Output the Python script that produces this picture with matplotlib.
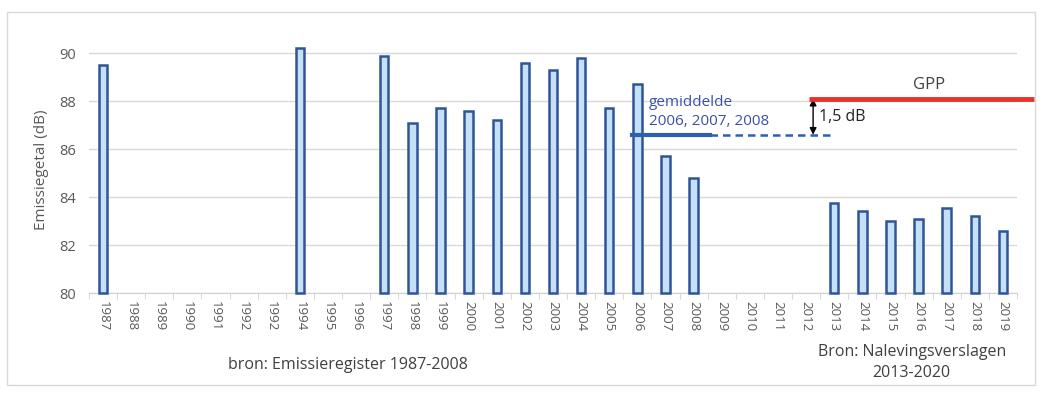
import matplotlib

matplotlib.use("agg")
import matplotlib.pyplot as plt
import numpy as np
from matplotlib.patches import Rectangle

years = list(range(1987, 2020))
year_labels = [str(y) for y in years]
year_labels[6] = "1992"  # as printed in the source chart

emission = {
    1987: 89.5, 1994: 90.2, 1997: 89.9, 1998: 87.1, 1999: 87.7, 2000: 87.6,
    2001: 87.2, 2002: 89.6, 2003: 89.3, 2004: 89.8, 2005: 87.7, 2006: 88.7,
    2007: 85.7, 2008: 84.8, 2013: 83.75, 2014: 83.4, 2015: 83.0, 2016: 83.1,
    2017: 83.55, 2018: 83.2, 2019: 82.6,
}
values = np.array([emission.get(y, np.nan) for y in years])

y_base = 80
mean_0608 = 86.6
gpp_level = 88.1

plt.rcParams["font.family"] = ["Open Sans", "DejaVu Sans"]

fig = plt.figure(figsize=(10.42, 3.94), dpi=100)
ax = fig.add_axes([0.0854, 0.2563, 0.8906, 0.627])

x = np.arange(len(years))
ax.bar(x, values - y_base, bottom=y_base, width=0.3, color="#c6e0f7",
       edgecolor="#2f5597", linewidth=1.8, zorder=3, clip_on=False)

ax.set_xlim(-0.5, len(years) - 0.5)
ax.set_ylim(y_base, 90.3)
ax.set_yticks(range(80, 91, 2))
ax.set_xticks(x)
ax.set_xticklabels(year_labels, rotation=-90, fontsize=9.5, color="#595959")
ax.tick_params(axis="y", length=0, labelsize=10.5, labelcolor="#595959", pad=9)
ax.tick_params(axis="x", length=0, pad=6)
ax.set_xticks(np.arange(-0.5, len(years)), minor=True)
ax.tick_params(axis="x", which="minor", length=4, color="#d0d0d0")
ax.grid(axis="y", color="#d9d9d9", linewidth=1, zorder=0)
for s in ["top", "right", "left"]:
    ax.spines[s].set_visible(False)
ax.spines["bottom"].set_color("#d0d0d0")
ax.set_ylabel("Emissiegetal (dB)", fontsize=11, color="#595959", labelpad=8)

# average of 2006-2008 and GPP limit
i06 = years.index(2006)
ax.plot([i06 - 0.2, i06 + 2.6], [mean_0608, mean_0608], color="#2f5fb3",
        linewidth=3, zorder=4)
ax.plot([i06 + 2.6, i06 + 6.9], [mean_0608, mean_0608], color="#2f5fb3",
        linewidth=1.8, linestyle=(0, (3, 2)), zorder=4)
ax.plot([25.1, 33.1], [gpp_level, gpp_level], color="#e8322b", linewidth=3.5,
        zorder=4, clip_on=False, solid_capstyle="butt")
ax.annotate("", xy=(25.25, gpp_level), xytext=(25.25, mean_0608),
            arrowprops=dict(arrowstyle="<|-|>", color="black", lw=1,
                            mutation_scale=10, shrinkA=0, shrinkB=0))
ax.text(25.45, 87.35, "1,5 dB", fontsize=11.5, va="center", color="#222222")
ax.text(28.8, 88.35, "GPP", fontsize=12, va="bottom", color="#404040")
ax.text(i06 + 0.4, 87.55, "gemiddelde\n2006, 2007, 2008", fontsize=11,
        color="#3a4fb0", va="center", linespacing=1.3)

fig.text(0.219, 0.073, "bron: Emissieregister 1987-2008", fontsize=11.5,
         color="#404040", va="center")
fig.text(0.875, 0.079, "Bron: Nalevingsverslagen\n2013-2020", fontsize=11.5,
         color="#404040", va="center", ha="center", linespacing=1.4)

fig.patches.append(Rectangle((0.007, 0.022), 0.986, 0.948, transform=fig.transFigure,
                             fill=False, edgecolor="#d9d9d9", linewidth=1))

fig.savefig("out.png", dpi=100, facecolor="white")
plt.close(fig)
